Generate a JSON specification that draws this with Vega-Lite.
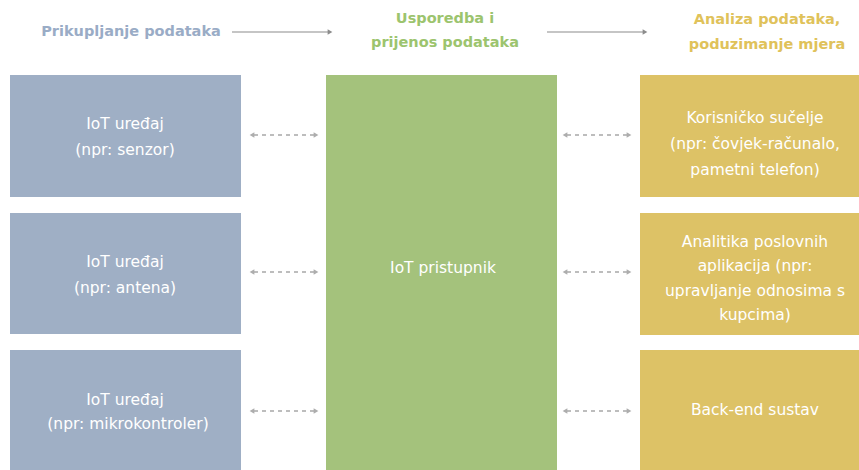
{
  "$schema": "https://vega.github.io/schema/vega-lite/v6.json",
  "width": 859,
  "height": 470,
  "autosize": {"type": "fit", "contains": "padding"},
  "padding": 0,
  "background": "white",
  "config": {"view": {"stroke": null}},
  "datasets": {
    "boxes": [
      {"x": 10, "x2": 241, "y": 75, "y2": 197, "g": "blue"},
      {"x": 10, "x2": 241, "y": 213, "y2": 334, "g": "blue"},
      {"x": 10, "x2": 241, "y": 350, "y2": 480, "g": "blue"},
      {"x": 326, "x2": 557, "y": 75, "y2": 480, "g": "green"},
      {"x": 640, "x2": 871, "y": 75, "y2": 197, "g": "gold"},
      {"x": 640, "x2": 871, "y": 213, "y2": 335, "g": "gold"},
      {"x": 640, "x2": 871, "y": 350, "y2": 480, "g": "gold"}
    ],
    "headers": [
      {"x": 131, "y": 32, "t": "Prikupljanje podataka", "g": "blue"},
      {"x": 445, "y": 19, "t": "Usporedba i", "g": "green"},
      {"x": 445, "y": 43, "t": "prijenos podataka", "g": "green"},
      {"x": 767, "y": 20, "t": "Analiza podataka,", "g": "gold"},
      {"x": 767, "y": 45, "t": "poduzimanje mjera", "g": "gold"}
    ],
    "labels": [
      {"x": 125, "y": 124, "t": "IoT uređaj"},
      {"x": 125, "y": 150, "t": "(npr: senzor)"},
      {"x": 125, "y": 262, "t": "IoT uređaj"},
      {"x": 125, "y": 288, "t": "(npr: antena)"},
      {"x": 125, "y": 400, "t": "IoT uređaj"},
      {"x": 128, "y": 424, "t": "(npr: mikrokontroler)"},
      {"x": 443, "y": 268, "t": "IoT pristupnik"},
      {"x": 755, "y": 118, "t": "Korisničko sučelje"},
      {"x": 755, "y": 144, "t": "(npr: čovjek-računalo,"},
      {"x": 755, "y": 170, "t": "pametni telefon)"},
      {"x": 755, "y": 242, "t": "Analitika poslovnih"},
      {"x": 755, "y": 266, "t": "aplikacija (npr:"},
      {"x": 755, "y": 291, "t": "upravljanje odnosima s"},
      {"x": 755, "y": 315, "t": "kupcima)"},
      {"x": 755, "y": 410, "t": "Back-end sustav"}
    ],
    "solid": [
      {"x": 232, "x2": 328, "y": 32},
      {"x": 547, "x2": 643, "y": 32}
    ],
    "dashed": [
      {"x": 254, "x2": 314, "y": 135},
      {"x": 254, "x2": 314, "y": 272},
      {"x": 254, "x2": 314, "y": 411},
      {"x": 567, "x2": 627, "y": 135},
      {"x": 567, "x2": 627, "y": 272},
      {"x": 567, "x2": 627, "y": 411}
    ],
    "heads": [
      {"x": 330, "y": 32, "s": "r", "k": "solid"},
      {"x": 645, "y": 32, "s": "r", "k": "solid"},
      {"x": 252, "y": 135, "s": "l", "k": "dash"},
      {"x": 316, "y": 135, "s": "r", "k": "dash"},
      {"x": 252, "y": 272, "s": "l", "k": "dash"},
      {"x": 316, "y": 272, "s": "r", "k": "dash"},
      {"x": 252, "y": 411, "s": "l", "k": "dash"},
      {"x": 316, "y": 411, "s": "r", "k": "dash"},
      {"x": 565, "y": 135, "s": "l", "k": "dash"},
      {"x": 629, "y": 135, "s": "r", "k": "dash"},
      {"x": 565, "y": 272, "s": "l", "k": "dash"},
      {"x": 629, "y": 272, "s": "r", "k": "dash"},
      {"x": 565, "y": 411, "s": "l", "k": "dash"},
      {"x": 629, "y": 411, "s": "r", "k": "dash"}
    ]
  },
  "resolve": {"scale": {"color": "independent"}},
  "layer": [
    {
      "data": {"name": "boxes"},
      "mark": {"type": "rect", "clip": true},
      "encoding": {
        "x": {"field": "x", "type": "quantitative", "scale": {"domain": [0, 859], "nice": false, "zero": false}, "axis": null},
        "x2": {"field": "x2"},
        "y": {"field": "y", "type": "quantitative", "scale": {"domain": [0, 470], "reverse": true, "nice": false, "zero": false}, "axis": null},
        "y2": {"field": "y2"},
        "color": {"field": "g", "type": "nominal", "legend": null, "scale": {"domain": ["blue", "green", "gold"], "range": ["#9FAFC5", "#A4C27C", "#DDC266"]}}
      }
    },
    {
      "data": {"name": "solid"},
      "mark": {"type": "rule", "color": "#8C8C8C", "strokeWidth": 1.2},
      "encoding": {
        "x": {"field": "x", "type": "quantitative"},
        "x2": {"field": "x2"},
        "y": {"field": "y", "type": "quantitative"}
      }
    },
    {
      "data": {"name": "dashed"},
      "mark": {"type": "rule", "color": "#BDBDBD", "strokeWidth": 1.8, "strokeDash": [4, 4]},
      "encoding": {
        "x": {"field": "x", "type": "quantitative"},
        "x2": {"field": "x2"},
        "y": {"field": "y", "type": "quantitative"}
      }
    },
    {
      "data": {"name": "heads"},
      "mark": {"type": "point", "filled": true, "size": 30, "opacity": 1},
      "encoding": {
        "x": {"field": "x", "type": "quantitative"},
        "y": {"field": "y", "type": "quantitative"},
        "shape": {"field": "s", "type": "nominal", "legend": null, "scale": {"domain": ["l", "r"], "range": ["triangle-left", "triangle-right"]}},
        "color": {"field": "k", "type": "nominal", "legend": null, "scale": {"domain": ["solid", "dash"], "range": ["#8C8C8C", "#ADADAD"]}}
      }
    },
    {
      "data": {"name": "headers"},
      "mark": {"type": "text", "font": "DejaVu Sans", "fontSize": 14.5, "fontWeight": "bold", "align": "center", "baseline": "middle"},
      "encoding": {
        "x": {"field": "x", "type": "quantitative"},
        "y": {"field": "y", "type": "quantitative"},
        "text": {"field": "t"},
        "color": {"field": "g", "type": "nominal", "legend": null, "scale": {"domain": ["blue", "green", "gold"], "range": ["#9AACC6", "#9CC46E", "#E0C25A"]}}
      }
    },
    {
      "data": {"name": "labels"},
      "mark": {"type": "text", "font": "DejaVu Sans", "fontSize": 15.5, "color": "white", "align": "center", "baseline": "middle"},
      "encoding": {
        "x": {"field": "x", "type": "quantitative"},
        "y": {"field": "y", "type": "quantitative"},
        "text": {"field": "t"}
      }
    }
  ]
}
